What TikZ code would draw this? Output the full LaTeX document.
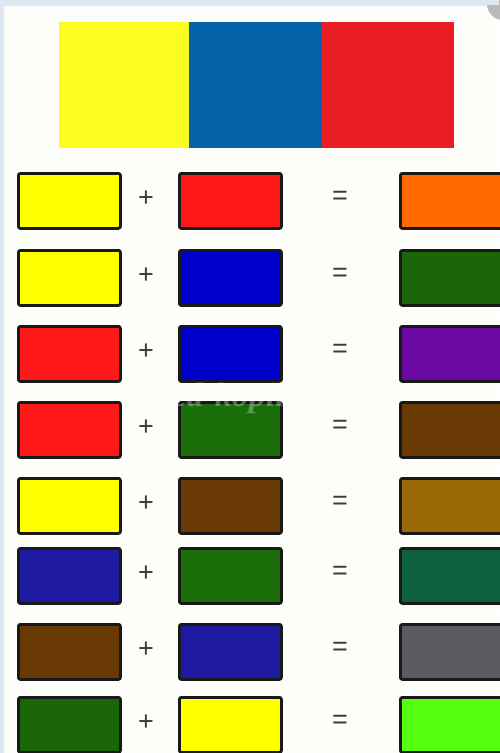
\documentclass[tikz,border=0pt]{standalone}
\usepackage{fontspec}
\setmainfont{Liberation Sans}
\newfontfamily\wmfont{Liberation Serif}
\definecolor{bgblue}{HTML}{DDE8F2}
\definecolor{paper}{HTML}{FDFDF9}
\definecolor{tYel}{HTML}{FCFC22}
\definecolor{tBlu}{HTML}{0563A8}
\definecolor{tRed}{HTML}{EA1C24}
\definecolor{cYel}{HTML}{FFFF00}
\definecolor{cRed}{HTML}{FF1818}
\definecolor{cOrg}{HTML}{FF6A00}
\definecolor{cBlu}{HTML}{0000CC}
\definecolor{cDGr}{HTML}{1A6608}
\definecolor{cPur}{HTML}{6A0AA2}
\definecolor{cGrn}{HTML}{1A6E0A}
\definecolor{cBrn}{HTML}{6A3A05}
\definecolor{cOch}{HTML}{9B6A08}
\definecolor{cNav}{HTML}{1E1AA0}
\definecolor{cTea}{HTML}{0D6040}
\definecolor{cGry}{HTML}{5A5A60}
\definecolor{cLim}{HTML}{55FF10}
\definecolor{sym}{HTML}{3A3A3A}
\begin{document}
\begin{tikzpicture}[x=1pt,y=-1pt,
  swatch/.style={draw=black!90, line width=2.8pt, rounded corners=2pt, minimum width=102pt, minimum height=55pt, inner sep=0pt, anchor=north west},
  band/.style={inner sep=0pt, minimum height=126pt, anchor=north west},
  sign/.style={text=sym, font=\fontsize{27}{27}\selectfont, inner sep=0pt}]
\useasboundingbox (0,0) rectangle (499,753);
\fill[bgblue] (0,0) rectangle (499,753);
\fill[paper] (4,6) rectangle (499,753);
\fill[gray!55] (503,4) circle (16pt);
\fill[bgblue] (499,0) -- (470,0) -- (470,5) -- (499,5) -- cycle;
% top band
\node[band, fill=tYel, minimum width=131pt] (ty) at (59,22) {};
\node[band, fill=tBlu, minimum width=133pt] (tb) at (189,22) {};
\node[band, fill=tRed, minimum width=132pt] (tr) at (322,22) {};
% rows
\foreach \i/\y/\a/\b/\c in {1/172/cYel/cRed/cOrg, 2/249/cYel/cBlu/cDGr, 3/325/cRed/cBlu/cPur, 4/401/cRed/cGrn/cBrn, 5/477/cYel/cBrn/cOch, 6/547/cNav/cGrn/cTea, 7/623/cBrn/cNav/cGry, 8/696/cDGr/cYel/cLim}{
  \node[swatch, fill=\a] (a\i) at (17,\y) {};
  \node[swatch, fill=\b] (b\i) at (178,\y) {};
  \node[swatch, fill=\c] (c\i) at (399,\y) {};
  \node[sign] (p\i) at (146,\y+27) {+};
  \node[sign] (e\i) at (340,\y+26) {=};
}
\node[text=white, opacity=0.3, font=\wmfont\itshape\bfseries\fontsize{34}{34}\selectfont] (wm) at (257,398) {ped-kopilka.ru};
\end{tikzpicture}
\end{document}
